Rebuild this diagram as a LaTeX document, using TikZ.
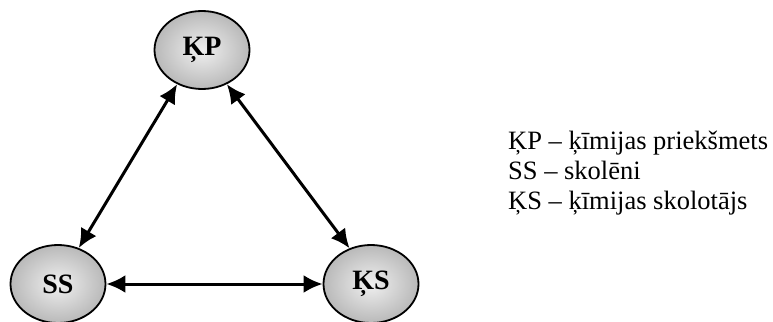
\documentclass[tikz,border=0pt]{standalone}
\usepackage{fontspec}
\setmainfont{Liberation Serif}
\usetikzlibrary{shapes.geometric,arrows.meta}
\begin{document}
\begin{tikzpicture}[x=1pt,y=-1pt,
  agent/.style={ellipse,draw=black,line width=1.8pt,minimum width=95pt,minimum height=78pt,inner sep=0pt,
    inner color=gray!12,outer color=gray!55,font=\fontsize{28}{30}\selectfont\bfseries},
  link/.style={line width=3pt,{Latex[length=19pt,width=18pt]}-{Latex[length=19pt,width=18pt]}},
  legend/.style={anchor=base west,inner sep=0pt,font=\fontsize{26.5}{30}\selectfont}]
\useasboundingbox (0,0) rectangle (773,321);
\node[agent] (KP) at (202,50) {ĶP};
\node[agent] (SS) at (58,284) {SS};
\node[agent] (KS) at (371,284) {ĶS};
\draw[link] (KP.234) -- (SS.60);
\draw[link] (KP.306) -- (KS.121);
\draw[link] (SS.east) -- (KS.west);
\node[legend] (L1) at (508,149) {ĶP – ķīmijas priekšmets};
\node[legend] (L2) at (508,179) {SS – skolēni};
\node[legend] (L3) at (508,209) {ĶS – ķīmijas skolotājs};
\end{tikzpicture}
\end{document}
